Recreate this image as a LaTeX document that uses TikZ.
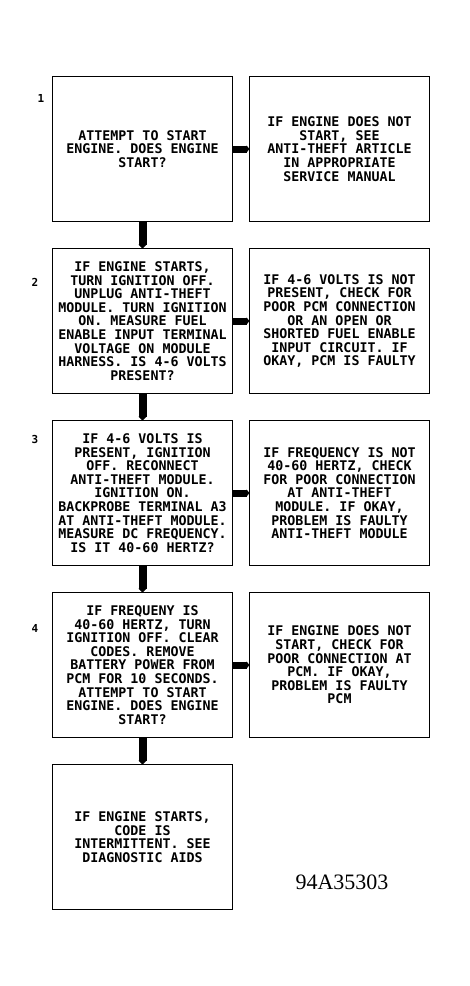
\documentclass[tikz,border=0pt]{standalone}
\usepackage{fontspec}
\usepackage{tikz}
\usetikzlibrary{positioning,arrows.meta}
\newfontfamily\boxfont{DejaVu Sans Mono}
\newfontfamily\figfont{Liberation Serif}

\begin{document}
\begin{tikzpicture}[x=1pt, y=1pt, node distance=27pt and 17pt,
  stepbox/.style={rectangle, draw, line width=1.8pt, minimum width=180pt,
    minimum height=145pt, align=center, inner sep=0pt, outer sep=0pt,
    font=\boxfont\bfseries\fontsize{13.3}{13.6}\selectfont},
  down/.style={line width=8pt, -{Triangle[length=4pt,width=8pt]}},
  across/.style={line width=7pt, -{Triangle[length=3pt,width=7pt]}},
  stepnum/.style={font=\boxfont\bfseries\fontsize{11}{11}\selectfont}]

  \useasboundingbox (0,0) rectangle (469,-986);

  % linke Spalte
  \node[stepbox] (b1) at (142.5,-149) {ATTEMPT TO START\\ENGINE. DOES ENGINE\\START?};
  \node[stepbox] (b2) [below=of b1] {IF ENGINE STARTS,\\TURN IGNITION OFF.\\UNPLUG ANTI-THEFT\\MODULE. TURN IGNITION\\ON. MEASURE FUEL\\ENABLE INPUT TERMINAL\\VOLTAGE ON MODULE\\HARNESS. IS 4-6 VOLTS\\PRESENT?};
  \node[stepbox] (b3) [below=of b2] {IF 4-6 VOLTS IS\\PRESENT, IGNITION\\OFF. RECONNECT\\ANTI-THEFT MODULE.\\IGNITION ON.\\BACKPROBE TERMINAL A3\\AT ANTI-THEFT MODULE.\\MEASURE DC FREQUENCY.\\IS IT 40-60 HERTZ?};
  \node[stepbox] (b4) [below=of b3] {IF FREQUENY IS\\40-60 HERTZ, TURN\\IGNITION OFF. CLEAR\\CODES. REMOVE\\BATTERY POWER FROM\\PCM FOR 10 SECONDS.\\ATTEMPT TO START\\ENGINE. DOES ENGINE\\START?};
  \node[stepbox] (b5) [below=of b4] {IF ENGINE STARTS,\\CODE IS\\INTERMITTENT. SEE\\DIAGNOSTIC AIDS};

  % rechte Spalte
  \node[stepbox] (r1) [right=of b1] {IF ENGINE DOES NOT\\START, SEE\\ANTI-THEFT ARTICLE\\IN APPROPRIATE\\SERVICE MANUAL};
  \node[stepbox] (r2) [right=of b2] {IF 4-6 VOLTS IS NOT\\PRESENT, CHECK FOR\\POOR PCM CONNECTION\\OR AN OPEN OR\\SHORTED FUEL ENABLE\\INPUT CIRCUIT. IF\\OKAY, PCM IS FAULTY};
  \node[stepbox] (r3) [right=of b3] {IF FREQUENCY IS NOT\\40-60 HERTZ, CHECK\\FOR POOR CONNECTION\\AT ANTI-THEFT\\MODULE. IF OKAY,\\PROBLEM IS FAULTY\\ANTI-THEFT MODULE};
  \node[stepbox] (r4) [right=of b4] {IF ENGINE DOES NOT\\START, CHECK FOR\\POOR CONNECTION AT\\PCM. IF OKAY,\\PROBLEM IS FAULTY\\PCM};

  \node[stepnum] (n1) at (41,-98)  {1};
  \node[stepnum] (n2) at (35,-282) {2};
  \node[stepnum] (n3) at (35,-439) {3};
  \node[stepnum] (n4) at (35,-628) {4};

  \path (b1) edge[down] (b2)
        (b2) edge[down] (b3)
        (b3) edge[down] (b4)
        (b4) edge[down] (b5)
        (b1) edge[across] (r1)
        (b2) edge[across] (r2)
        (b3) edge[across] (r3)
        (b4) edge[across] (r4);

  \node[font=\figfont\fontsize{22}{22}\selectfont] (fig) at (342,-882) {94A35303};
\end{tikzpicture}
\end{document}
